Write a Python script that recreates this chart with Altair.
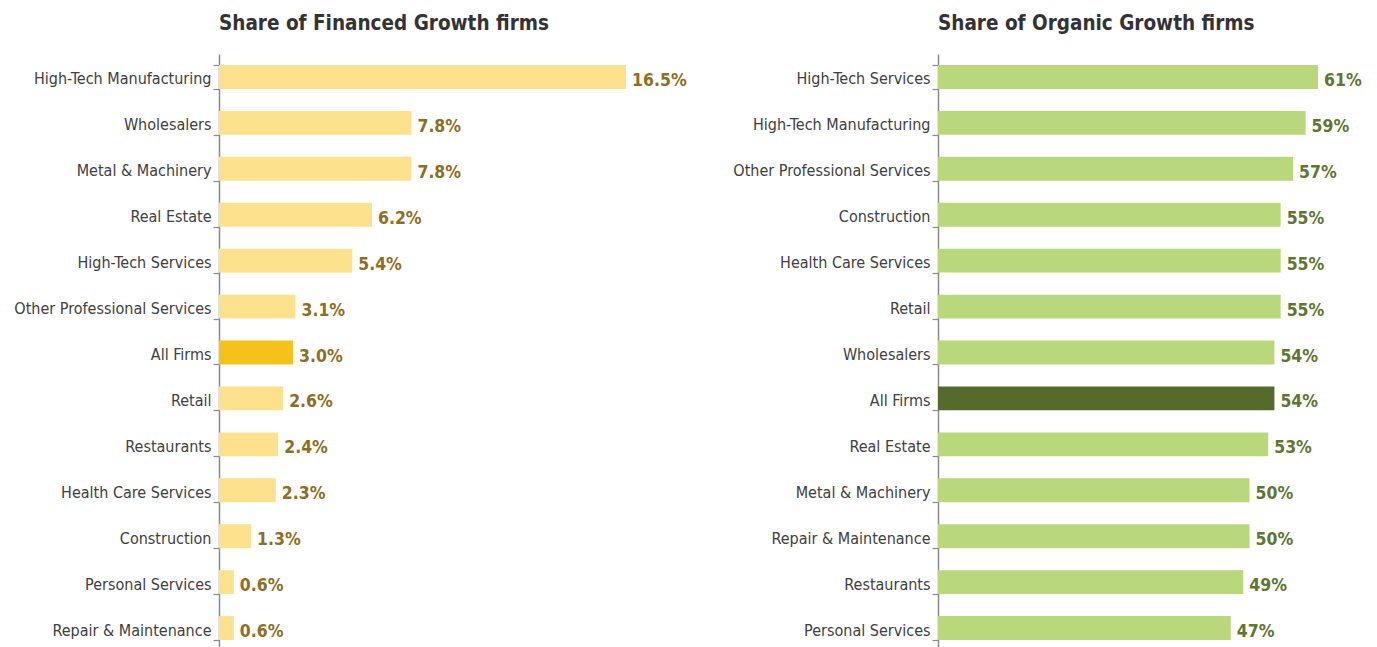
import altair as alt
import pandas as pd

fin_categories = ["High-Tech Manufacturing", "Wholesalers", "Metal & Machinery", "Real Estate",
                  "High-Tech Services", "Other Professional Services", "All Firms", "Retail",
                  "Restaurants", "Health Care Services", "Construction", "Personal Services",
                  "Repair & Maintenance"]
fin_values = [16.5, 7.8, 7.8, 6.2, 5.4, 3.1, 3.0, 2.6, 2.4, 2.3, 1.3, 0.6, 0.6]
fin_labels = ["16.5%", "7.8%", "7.8%", "6.2%", "5.4%", "3.1%", "3.0%", "2.6%", "2.4%",
              "2.3%", "1.3%", "0.6%", "0.6%"]

org_categories = ["High-Tech Services", "High-Tech Manufacturing", "Other Professional Services",
                  "Construction", "Health Care Services", "Retail", "Wholesalers", "All Firms",
                  "Real Estate", "Metal & Machinery", "Repair & Maintenance", "Restaurants",
                  "Personal Services"]
org_values = [61, 59, 57, 55, 55, 55, 54, 54, 53, 50, 50, 49, 47]
org_labels = ["61%", "59%", "57%", "55%", "55%", "55%", "54%", "54%", "53%", "50%", "50%",
              "49%", "47%"]

FONT = "DejaVu Sans Condensed"
H = 597


def panel(cats, vals, labels, title, width, xmax, bar_col, hi_col, txt_col):
    df = pd.DataFrame({"cat": cats, "val": vals, "lab": labels,
                       "hi": [c == "All Firms" for c in cats]})
    y = alt.Y("cat:N", sort=cats,
              scale=alt.Scale(paddingInner=0.48, paddingOuter=0.24),
              axis=alt.Axis(title=None, tickBand="extent", domainColor="#8a8a8a",
                            domainWidth=1.5, tickColor="#8a8a8a", tickSize=6,
                            tickWidth=1.2, labelFont=FONT, labelFontSize=16,
                            labelColor="#404040", labelPadding=2, labelLimit=400,
                            labelOffset=2))
    x = alt.X("val:Q", scale=alt.Scale(domain=[0, xmax], nice=False, zero=True), axis=None)
    base = alt.Chart(df)
    bars = base.mark_bar().encode(
        y=y, x=x,
        color=alt.condition("datum.hi", alt.value(hi_col), alt.value(bar_col)))
    text = base.mark_text(align="left", baseline="middle", dx=6, dy=4, font=FONT,
                          fontSize=17.5, fontWeight="bold", color=txt_col).encode(
        y=alt.Y("cat:N", sort=cats), x=x, text="lab:N")
    return (bars + text).properties(
        width=width, height=H,
        title=alt.TitleParams(title, anchor="start", frame="group", font=FONT,
                              fontSize=20.5, fontWeight="bold", color="#333333",
                              offset=12))


left = panel(fin_categories, fin_values, fin_labels, "Share of Financed Growth firms",
             480, 480 / 24.67, "#FDE18D", "#F5C219", "#8F6E22")
right = panel(org_categories, org_values, org_labels, "Share of Organic Growth firms",
              425, 425 / 6.23, "#B9D77B", "#566A2C", "#5E7630")

chart = alt.hconcat(left, right, spacing=33).configure(
    background="white", view=alt.ViewConfig(stroke=None))
chart.save("out.html", embed_options={"renderer": "svg", "actions": False})
